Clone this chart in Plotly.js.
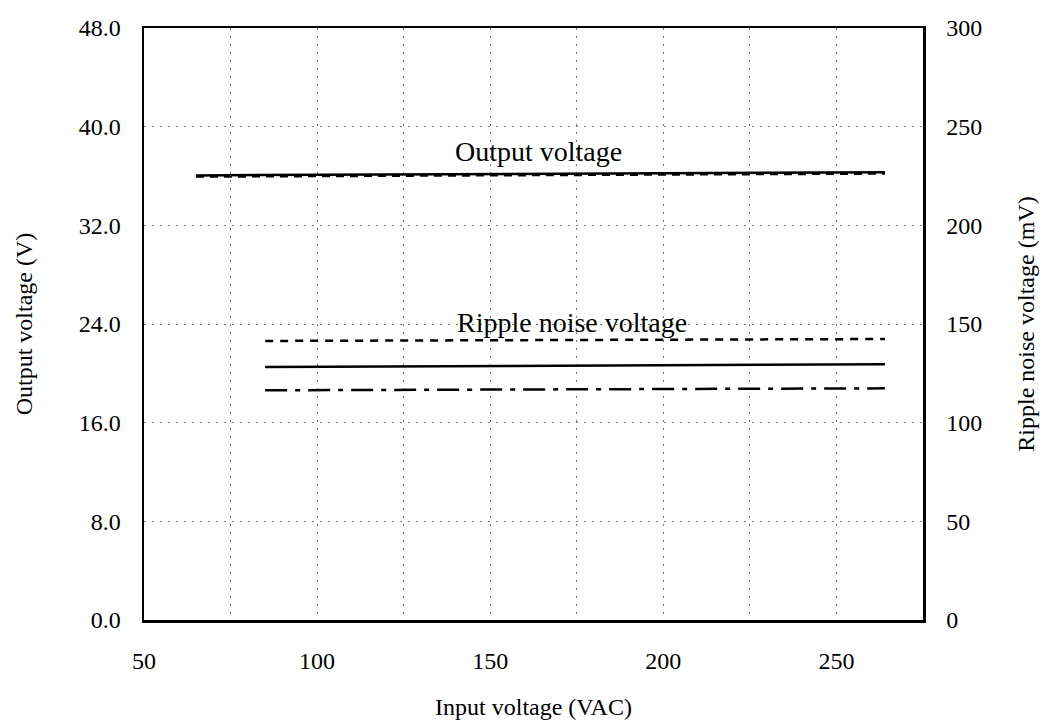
<!DOCTYPE html>
<html>
<head>
<meta charset="utf-8">
<script src="https://cdn.plot.ly/plotly-3.0.1.min.js"></script>
<style>html,body{margin:0;padding:0;background:#fff;}#chart{width:1050px;height:726px;}</style>
</head>
<body>
<div id="chart"></div>
<script>
// Output voltage (left axis, V)
var outX = [65, 100, 150, 200, 264];
var outSolid = [36.05, 36.1, 36.15, 36.2, 36.3];
var outDashed = [35.95, 36.0, 36.05, 36.1, 36.2];

// Ripple noise voltage (right axis, mV)
var ripX = [85, 100, 150, 200, 230, 264];
var ripDashed = [141.4, 141.5, 141.8, 142.1, 142.3, 142.4];
var ripSolid = [128.2, 128.3, 128.6, 129.0, 129.3, 129.6];
var ripDashDot = [116.4, 116.5, 116.8, 117.1, 117.3, 117.4];

var xTicks = [50, 100, 150, 200, 250];
var yTicks = [0, 8, 16, 24, 32, 40, 48];
var y2Ticks = [0, 50, 100, 150, 200, 250, 300];

var font = 'Liberation Serif, Times New Roman, serif';
var gridColor = '#777';
var gridDash = '2px,6px';

var traces = [
  {x: outX, y: outSolid, mode: 'lines', line: {color: '#000', width: 2.5}, yaxis: 'y'},
  {x: outX, y: outDashed, mode: 'lines', line: {color: '#000', width: 2.5, dash: '8px,6px'}, yaxis: 'y'},
  {x: ripX, y: ripDashed, mode: 'lines', line: {color: '#000', width: 2.5, dash: '8px,7px'}, yaxis: 'y2'},
  {x: ripX, y: ripSolid, mode: 'lines', line: {color: '#000', width: 2.5}, yaxis: 'y2'},
  {x: ripX, y: ripDashDot, mode: 'lines', line: {color: '#000', width: 2.5, dash: '22px,8px,5px,8px'}, yaxis: 'y2'}
];

var layout = {
  width: 1050, height: 726,
  margin: {l: 144, r: 127, t: 28, b: 106},
  paper_bgcolor: '#fff', plot_bgcolor: '#fff',
  showlegend: false,
  font: {family: font, color: '#000', size: 24},
  xaxis: {
    range: [50, 275], tickvals: xTicks, ticktext: xTicks.map(String),
    showline: true, linecolor: '#000', linewidth: 2.5, mirror: true,
    showgrid: true, gridcolor: gridColor, gridwidth: 1, griddash: gridDash,
    minor: {dtick: 25, tick0: 50, showgrid: true, gridcolor: gridColor, gridwidth: 1, griddash: gridDash},
    ticks: '', ticklabelstandoff: 18, zeroline: false,
    tickfont: {family: font, size: 24},
    title: {text: 'Input voltage (VAC)', font: {family: font, size: 24}, standoff: 25}
  },
  yaxis: {
    range: [0, 48], tickvals: yTicks, ticktext: yTicks.map(function(v){return v.toFixed(1);}),
    showline: true, linecolor: '#000', linewidth: 2.5,
    showgrid: true, gridcolor: gridColor, gridwidth: 1, griddash: gridDash,
    ticks: '', ticklabelstandoff: 16, zeroline: false,
    tickfont: {family: font, size: 24},
    title: {text: 'Output voltage (V)', font: {family: font, size: 24}, standoff: 40}
  },
  yaxis2: {
    range: [0, 300], tickvals: y2Ticks, ticktext: y2Ticks.map(String),
    overlaying: 'y', side: 'right',
    showline: true, linecolor: '#000', linewidth: 2.5,
    showgrid: false, ticks: '', ticklabelstandoff: 16, zeroline: false,
    tickfont: {family: font, size: 24},
    title: {text: 'Ripple noise voltage (mV)', font: {family: font, size: 24}, standoff: 36}
  },
  annotations: [
    {x: 164, y: 38.0, xref: 'x', yref: 'y', text: 'Output voltage', showarrow: false,
     font: {family: font, size: 28, color: '#000'}},
    {x: 173.6, y: 24.1, xref: 'x', yref: 'y', text: 'Ripple noise voltage', showarrow: false,
     font: {family: font, size: 28, color: '#000'}}
  ]
};

Plotly.newPlot('chart', traces, layout, {staticPlot: true, displayModeBar: false});
</script>
</body>
</html>
